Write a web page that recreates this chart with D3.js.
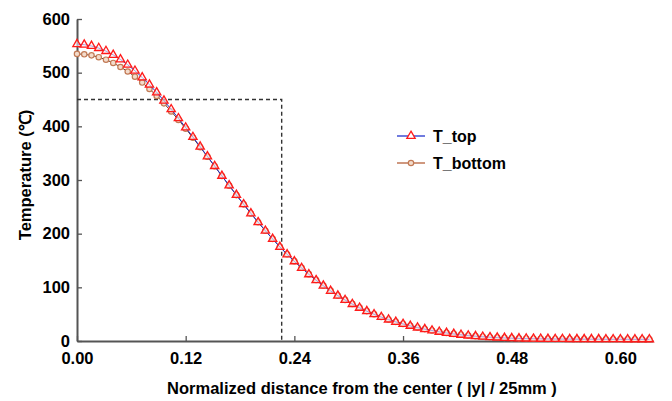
<!DOCTYPE html>
<html>
<head>
<meta charset="utf-8">
<script src="https://cdn.jsdelivr.net/npm/d3@7"></script>
<style>
  body { margin: 0; background: #fff; }
  text { font-family: "Liberation Sans", Arial, sans-serif; }
</style>
</head>
<body>
<svg id="chart" width="672" height="401"></svg>
<script>
// normalized distance |y| / 25mm
var xValues = [0, 0.008, 0.016, 0.024, 0.032, 0.04, 0.048, 0.056, 0.064, 0.072,
  0.08, 0.088, 0.096, 0.104, 0.112, 0.12, 0.128, 0.136, 0.144, 0.152,
  0.16, 0.168, 0.176, 0.184, 0.192, 0.2, 0.208, 0.216, 0.224, 0.232,
  0.24, 0.248, 0.256, 0.264, 0.272, 0.28, 0.288, 0.296, 0.304, 0.312,
  0.32, 0.328, 0.336, 0.344, 0.352, 0.36, 0.368, 0.376, 0.384, 0.392,
  0.4, 0.408, 0.416, 0.424, 0.432, 0.44, 0.448, 0.456, 0.464, 0.472,
  0.48, 0.488, 0.496, 0.504, 0.512, 0.52, 0.528, 0.536, 0.544, 0.552,
  0.56, 0.568, 0.576, 0.584, 0.592, 0.6, 0.608, 0.616, 0.624, 0.632];

var tTop = [553.0, 552.2, 549.8, 545.8, 540.2, 533.1, 524.6, 514.7, 503.5, 491.1,
  477.6, 463.2, 447.8, 431.7, 415.0, 397.7, 380.1, 362.1, 344.0, 325.9,
  307.7, 289.8, 272.1, 254.7, 237.8, 221.3, 205.4, 190.1, 175.3, 161.3,
  148.4, 136.0, 124.2, 113.2, 103.0, 93.4, 84.5, 76.3, 68.8, 61.8,
  55.5, 49.8, 44.6, 39.9, 35.6, 31.7, 28.2, 25.0, 22.1, 19.5,
  17.1, 15.0, 13.1, 11.5, 10.1, 8.9, 7.9, 7.0, 6.3, 5.7,
  5.2, 4.8, 4.5, 4.2, 4.0, 3.8, 3.7, 3.6, 3.5, 3.4,
  3.4, 3.3, 3.3, 3.2, 3.2, 3.2, 3.1, 3.1, 3.1, 3.1];

var tBottom = [535.0, 534.2, 532.3, 528.8, 524.2, 518.1, 510.6, 502.2, 492.5, 481.6,
  469.6, 456.7, 442.8, 427.7, 412.0, 395.7, 378.6, 361.1, 343.5, 325.5,
  307.4, 289.5, 271.9, 254.6, 237.7, 221.3, 205.5, 190.3, 175.6, 161.7,
  148.8, 136.4, 124.6, 113.6, 103.4, 93.8, 84.9, 76.6, 69.1, 62.1,
  55.7, 50.0, 44.8, 40.0, 35.7, 31.8, 28.3, 25.1, 22.2, 19.6,
  17.2, 15.1, 13.2, 11.6, 10.2, 9.0, 8.0, 7.1, 6.4, 5.8,
  5.3, 4.9, 4.6, 4.3, 4.1, 3.9, 3.8, 3.7, 3.6, 3.5,
  3.5, 3.4, 3.4, 3.3, 3.3, 3.3, 3.2, 3.2, 3.2, 3.2];

var xTicks = [0, 0.12, 0.24, 0.36, 0.48, 0.60];
var yTicks = [0, 100, 200, 300, 400, 500, 600];

// reference guide: T = 450 reached at |y|/25mm = 0.226
var guideX = 0.226, guideT = 450;

var svg = d3.select("#chart");

var x = d3.scaleLinear().domain([0, 0.636]).range([77, 653]);
var y = d3.scaleLinear().domain([0, 600]).range([341, 19]);

var axisColor = "#555",
    fontSize = "16.5px";

// axes
var gx = svg.append("g").attr("transform", "translate(0," + y(0) + ")")
  .call(d3.axisBottom(x).tickValues(xTicks).tickSizeInner(-5).tickSizeOuter(0)
    .tickFormat(d3.format(".2f")).tickPadding(11));
var gy = svg.append("g").attr("transform", "translate(" + x(0) + ",0)")
  .call(d3.axisLeft(y).tickValues(yTicks).tickSizeInner(-5).tickSizeOuter(0).tickPadding(7));

[gx, gy].forEach(function(g) {
  g.select(".domain").attr("stroke", axisColor).attr("stroke-width", 2);
  g.selectAll(".tick line").attr("stroke", axisColor).attr("stroke-width", 1.3);
  g.selectAll(".tick text")
    .attr("fill", "#000")
    .style("font-size", fontSize)
    .style("font-weight", "bold")
    .style("font-family", "'Liberation Sans', Arial, sans-serif");
});

// dashed guides
svg.append("path")
  .attr("d", "M" + x(0) + "," + y(guideT) + "H" + x(guideX) + "V" + y(0))
  .attr("fill", "none")
  .attr("stroke", "#333")
  .attr("stroke-width", 1.4)
  .attr("stroke-dasharray", "4,3");

var line = d3.line()
  .x(function(d) { return x(d[0]); })
  .y(function(d) { return y(d[1]); });

var bottomPts = xValues.map(function(v, i) { return [v, tBottom[i]]; });
var topPts = xValues.map(function(v, i) { return [v, tTop[i]]; });

// T_bottom first so the triangles sit on top
svg.append("path").datum(bottomPts)
  .attr("d", line)
  .attr("fill", "none")
  .attr("stroke", "#6b3a22")
  .attr("stroke-width", 1);
svg.selectAll(".mb").data(bottomPts).enter().append("circle")
  .attr("class", "mb")
  .attr("cx", function(d) { return x(d[0]); })
  .attr("cy", function(d) { return y(d[1]); })
  .attr("r", 2.7)
  .attr("fill", "#f3dccc")
  .attr("stroke", "#c27a55")
  .attr("stroke-width", 1.2);

svg.append("path").datum(topPts)
  .attr("d", line)
  .attr("fill", "none")
  .attr("stroke", "#2233cc")
  .attr("stroke-width", 1);
var tri = d3.symbol().type(d3.symbolTriangle).size(30);
svg.selectAll(".mt").data(topPts).enter().append("path")
  .attr("class", "mt")
  .attr("transform", function(d) { return "translate(" + x(d[0]) + "," + y(d[1]) + ")"; })
  .attr("d", tri)
  .attr("fill", "#fff0f0")
  .attr("fill-opacity", 0.6)
  .attr("stroke", "#ff1a1a")
  .attr("stroke-width", 1.3);

// legend
var legend = svg.append("g").attr("transform", "translate(397,136)");
var entries = [
  { key: "T_top", line: "#2233cc", stroke: "#ff1a1a", shape: "tri" },
  { key: "T_bottom", line: "#b5603a", stroke: "#c27a55", shape: "circle" }
];
entries.forEach(function(e, i) {
  var g = legend.append("g").attr("transform", "translate(0," + i * 27 + ")");
  g.append("line").attr("x1", 0).attr("x2", 28).attr("y1", 0).attr("y2", 0)
    .attr("stroke", e.line).attr("stroke-width", 1.3);
  if (e.shape === "tri") {
    g.append("path").attr("transform", "translate(14,0)").attr("d", tri)
      .attr("fill", "#fff").attr("stroke", e.stroke).attr("stroke-width", 1.3);
  } else {
    g.append("circle").attr("cx", 14).attr("cy", 0).attr("r", 2.7)
      .attr("fill", "#f3dccc").attr("stroke", e.stroke).attr("stroke-width", 1.2);
  }
  g.append("text").attr("x", 36).attr("y", 6)
    .style("font-size", "16px").style("font-weight", "bold")
    .text(e.key);
});

// axis titles
svg.append("text")
  .attr("x", 362).attr("y", 394)
  .attr("text-anchor", "middle")
  .style("font-size", fontSize).style("font-weight", "bold")
  .text("Normalized distance from the center ( |y| / 25mm )");

svg.append("text")
  .attr("transform", "translate(31,175) rotate(-90)")
  .attr("text-anchor", "middle")
  .style("font-size", fontSize).style("font-weight", "bold")
  .text("Temperature (℃)");
</script>
</body>
</html>
